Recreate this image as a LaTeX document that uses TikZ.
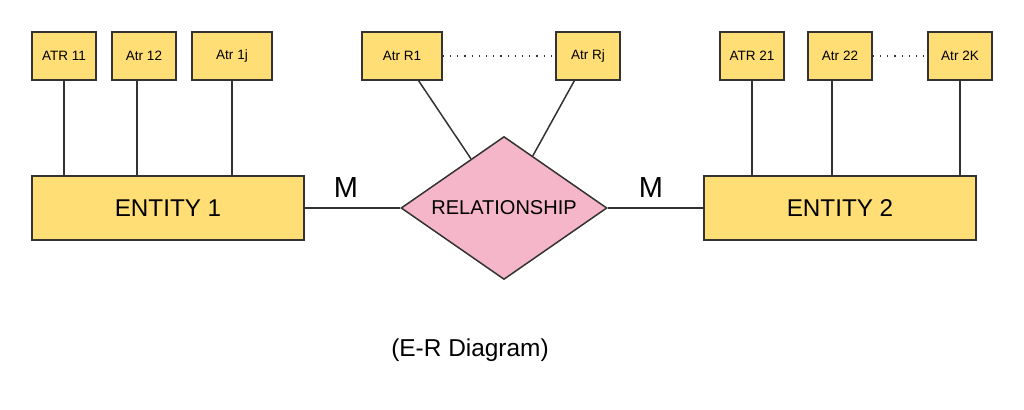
\documentclass[tikz,border=0pt]{standalone}
\usepackage{fontspec}
\setmainfont{Liberation Sans}
\usetikzlibrary{shapes.geometric}
\definecolor{boxfill}{HTML}{FFDE75}
\definecolor{relfill}{HTML}{F4B6C8}
\definecolor{edgecol}{HTML}{333333}

\begin{document}
\begin{tikzpicture}[x=0.02cm,y=-0.02cm,line width=0.85pt,draw=edgecol,
  attr/.style={draw=edgecol,fill=boxfill,inner sep=0pt,minimum width=1.28cm,minimum height=0.96cm,font=\fontsize{7.7}{9}\selectfont},
  entity/.style={draw=edgecol,fill=boxfill,inner sep=0pt,minimum width=5.44cm,minimum height=1.28cm,font=\fontsize{13.8}{16}\selectfont},
  dots/.style={edgecol,line width=0.7pt,dash pattern=on 0.7pt off 3.4pt}]
  \useasboundingbox (0,0) rectangle (1024,409);
  % attributes
  \node[attr] (a11) at (64,56)  {ATR 11};
  \node[attr] (a12) at (144,56) {Atr 12};
  \node[attr,minimum width=1.6cm] (a1j) at (232,56) {Atr 1j};
  \node[attr,minimum width=1.6cm] (r1)  at (402,56) {Atr R1};
  \node[attr] (rj)  at (588,56) {Atr Rj};
  \node[attr] (a21) at (752,56) {ATR 21};
  \node[attr] (a22) at (840,56) {Atr 22};
  \node[attr] (a2k) at (960,56) {Atr 2K};
  % entities and relationship
  \node[entity] (e1) at (168,208) {ENTITY 1};
  \node[entity] (e2) at (840,208) {ENTITY 2};
  \node[diamond,aspect=1.44,draw=edgecol,fill=relfill,inner sep=0pt,minimum width=4.12cm,minimum height=2.86cm,
        font=\fontsize{11.4}{13}\selectfont] (rel) at (504,208) {RELATIONSHIP};
  % links
  \foreach \a/\s in {a11/0,a12/-7,a1j/0}
    \draw ([xshift=\s*0.02cm]\a.south) -- ([xshift=\s*0.02cm]\a.south |- e1.north);
  \foreach \a/\s in {a21/0,a22/-8,a2k/0}
    \draw ([xshift=\s*0.02cm]\a.south) -- ([xshift=\s*0.02cm]\a.south |- e2.north);
  \draw (r1) -- (rel);
  \draw (rj) -- (rel);
  \draw (e1) -- (rel);
  \draw (rel) -- (e2);
  \draw[dots] (r1) -- (rj);
  \draw[dots] (a22) -- (a2k);
  % cardinalities and caption
  \node[font=\fontsize{16.5}{18}\selectfont] (m1) at (346,188) {M};
  \node[font=\fontsize{16.5}{18}\selectfont] (m2) at (651,188) {M};
  \node[font=\fontsize{13.9}{16}\selectfont] (cap) at (470,350) {(E-R Diagram)};
\end{tikzpicture}
\end{document}
